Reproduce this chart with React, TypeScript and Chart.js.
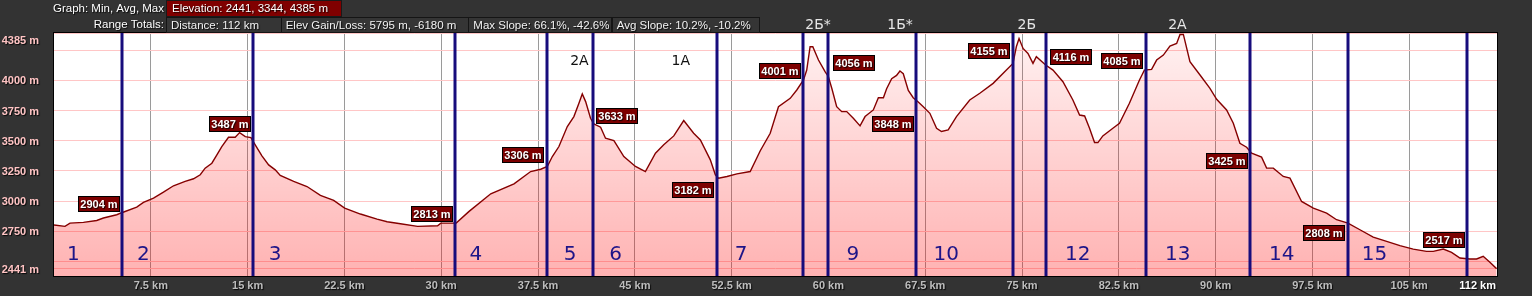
import React, { useEffect, useRef } from 'react';
import { Chart, registerables } from 'chart.js';

Chart.register(...registerables);

// ---- Data ----
const distanceKm = [
  0, 0.85, 1.24, 2.28, 3.31, 3.83, 4.86, 5.3, 6.41, 6.93, 7.71, 8.48, 9.26, 10.16, 10.81, 11.33, 11.71,
  12.23, 12.62, 13.0, 13.52, 14.04, 14.38, 14.82, 15.26, 15.59, 16.11, 16.63, 17.14, 17.53, 18.57, 19.6,
  20.64, 21.67, 22.52, 23.74, 25.03, 25.81, 26.84, 28.17, 29.72, 29.97, 31.16, 32.16, 33.84, 35.64, 36.93,
  37.71, 38.22, 38.61, 39.12, 39.77, 40.28, 40.67, 40.93, 41.19, 41.57, 41.83, 42.35, 42.73, 43.38, 44.15,
  45.05, 45.82, 46.6, 47.24, 48.02, 48.79, 49.56, 50.08, 50.85, 51.24, 51.49, 52.14, 52.91, 53.94, 54.72,
  55.49, 56.13, 57.04, 57.55, 58.07, 58.32, 58.58, 58.79, 59.23, 59.74, 60.0, 60.26, 60.64, 61.03, 61.42,
  61.93, 62.45, 62.84, 63.48, 63.87, 64.26, 64.51, 64.9, 65.28, 65.54, 65.8, 66.19, 66.57, 66.96, 67.35,
  67.86, 68.38, 68.76, 69.28, 69.92, 70.95, 71.73, 72.76, 73.79, 74.3, 74.56, 74.77, 75.08, 75.46, 75.85,
  76.11, 76.83, 77.4, 78.17, 78.94, 79.46, 79.85, 80.23, 80.62, 80.88, 81.26, 82.04, 82.55, 83.32, 84.1,
  84.48, 85.04, 85.43, 85.95, 86.46, 86.98, 87.24, 87.5, 88.01, 88.79, 89.56, 90.08, 90.85, 91.37, 91.88,
  92.4, 92.79, 93.56, 93.95, 94.47, 95.24, 95.76, 96.66, 97.57, 98.6, 99.37, 100.25, 101.18, 102.21,
  103.25, 104.28, 105.31, 106.34, 106.86, 107.64, 108.28, 108.93, 109.7, 110.22, 110.73, 111.25, 111.77,
];
const elevationM = [
  2802, 2791, 2818, 2824, 2840, 2860, 2887, 2906, 2950, 2989, 3025, 3074, 3127, 3163, 3185, 3218, 3273,
  3314, 3383, 3452, 3529, 3529, 3567, 3534, 3526, 3466, 3375, 3300, 3259, 3212, 3163, 3121,
  3047, 3006, 2942, 2893, 2851, 2829, 2813, 2791, 2796, 2818, 2818, 2915, 3061, 3143, 3245,
  3264, 3287, 3369, 3452, 3617, 3700, 3810, 3887, 3824, 3686, 3639, 3612, 3521, 3501, 3369,
  3287, 3245, 3397, 3466, 3540, 3667, 3562, 3507, 3342, 3218, 3190, 3204, 3226, 3245, 3417,
  3562, 3782, 3851, 3920, 4003, 4085, 4278, 4278, 4168, 4072, 4030, 3934, 3782, 3741, 3741,
  3686, 3623, 3700, 3755, 3856, 3856, 3931, 4014, 4041, 4077, 4055, 3917, 3856, 3820, 3782,
  3727, 3603, 3576, 3590, 3700, 3837, 3893, 3975, 4085, 4140, 4278, 4347, 4264, 4223, 4140,
  4196, 4127, 4085, 3989, 3837, 3713, 3705, 3603, 3485, 3485, 3540, 3603, 3645, 3810, 4003,
  4085, 4091, 4168, 4209, 4284, 4306, 4380, 4380, 4154, 4044, 3934, 3843, 3755, 3645, 3479,
  3446, 3397, 3364, 3273, 3273, 3204, 3190, 2997, 2942, 2901, 2846, 2818, 2763, 2702,
  2667, 2631, 2603, 2584, 2584, 2603, 2576, 2529, 2521, 2521, 2543, 2493, 2441,
];

const segmentBoundaryKm = [5.3, 15.45, 31.1, 38.2, 41.77, 51.4, 58.06, 60.0, 66.82, 74.33, 76.86, 84.64, 92.67, 100.26, 109.51];
const segmentLabels = ['1', '2', '3', '4', '5', '6', '7', '9', '10', '12', '13', '14', '15'];
const segmentLabelKm = [1.5, 6.93, 17.13, 32.68, 39.99, 43.52, 53.23, 61.89, 69.12, 79.32, 87.07, 95.13, 102.3];

const passLabels = ['2А', '1А', '2Б*', '1Б*', '2Б', '2А'];
const passKm = [40.71, 48.56, 59.2, 65.55, 75.37, 87.04];
const passAbovePlot = [false, false, true, true, true, true];

const elevLabels = ['2904 m', '3487 m', '2813 m', '3306 m', '3633 m', '3182 m', '4001 m', '4056 m', '3848 m', '4155 m', '4116 m', '4085 m', '3425 m', '2808 m', '2517 m'];
const elevLabelKm = [3.42, 13.57, 29.27, 36.32, 43.57, 49.49, 56.18, 61.94, 64.96, 72.39, 78.73, 82.73, 90.81, 98.35, 107.65];
const elevLabelM = [2982, 3644, 2899, 3387, 3713, 3098, 4085, 4146, 3644, 4243, 4201, 4166, 3334, 2738, 2686];

const xTickKm = [7.5, 15, 22.5, 30, 37.5, 45, 52.5, 60, 67.5, 75, 82.5, 90, 97.5, 105];
const xEndLabel = '112 km';
const yGridM = [2441, 2500, 2750, 3000, 3250, 3500, 3750, 4000, 4250, 4385];
const yLabelM = [2441, 2750, 3000, 3250, 3500, 3750, 4000, 4385];

const headerRow1Title = 'Graph: Min, Avg, Max';
const headerRow1Value = 'Elevation: 2441, 3344, 4385 m';
const headerRow2Title = 'Range Totals:';
const headerRow2Values = ['Distance: 112 km', 'Elev Gain/Loss: 5795 m, -6180 m', 'Max Slope: 66.1%, -42.6%', 'Avg Slope: 10.2%, -10.2%'];

// ---- Layout / style constants ----
const W = 1532;
const H = 296;
const SANS = '"Liberation Sans", Arial, sans-serif';
const DEJAVU = '"DejaVu Sans", sans-serif';
const HEADER_BOX_LEFT = 166;
const HEADER_ROW1_BOX_WIDTH = 175;
const HEADER_BOX_WIDTHS = [114.7, 187.6, 143.4, 147.3];

function shadowOn(ctx: CanvasRenderingContext2D) {
  ctx.shadowColor = 'rgba(0,0,0,0.85)';
  ctx.shadowOffsetX = 1;
  ctx.shadowOffsetY = 1;
  ctx.shadowBlur = 1;
}
function shadowOff(ctx: CanvasRenderingContext2D) {
  ctx.shadowColor = 'rgba(0,0,0,0)';
  ctx.shadowOffsetX = 0;
  ctx.shadowOffsetY = 0;
  ctx.shadowBlur = 0;
}

const decor = {
  id: 'decor',
  beforeDraw(chart: any) {
    const { ctx, chartArea: a } = chart;
    ctx.save();
    ctx.fillStyle = '#333333';
    ctx.fillRect(0, 0, chart.width, chart.height);
    ctx.fillStyle = '#ffffff';
    ctx.fillRect(a.left, a.top, a.right - a.left, a.bottom - a.top);
    ctx.restore();
  },
  afterDatasetsDraw(chart: any) {
    const { ctx, chartArea: a } = chart;
    const xs = chart.scales.x;
    const ys = chart.scales.y;
    ctx.save();
    // segment boundaries
    ctx.strokeStyle = '#170c7c';
    ctx.lineWidth = 3;
    segmentBoundaryKm.forEach((km) => {
      const x = Math.round(xs.getPixelForValue(km));
      ctx.beginPath();
      ctx.moveTo(x, a.top);
      ctx.lineTo(x, a.bottom);
      ctx.stroke();
    });
    // segment numbers
    ctx.fillStyle = '#1d1488';
    ctx.font = `20px ${DEJAVU}`;
    ctx.textAlign = 'center';
    ctx.textBaseline = 'middle';
    segmentLabels.forEach((t, i) => {
      ctx.fillText(t, xs.getPixelForValue(segmentLabelKm[i]), a.bottom - 21);
    });
    // pass labels
    ctx.font = `14px ${DEJAVU}`;
    passLabels.forEach((t, i) => {
      const x = xs.getPixelForValue(passKm[i]);
      if (passAbovePlot[i]) {
        ctx.fillStyle = '#e6e6e6';
        ctx.fillText(t, x, a.top - 8);
      } else {
        ctx.fillStyle = '#111111';
        ctx.fillText(t, x, a.top + 28);
      }
    });
    // elevation labels
    ctx.font = `bold 11px ${SANS}`;
    elevLabels.forEach((t, i) => {
      const cx = xs.getPixelForValue(elevLabelKm[i]);
      const cy = ys.getPixelForValue(elevLabelM[i]);
      const w = Math.round(ctx.measureText(t).width + 4);
      const h = 15;
      const x0 = Math.round(cx - w / 2) + 0.5;
      const y0 = Math.round(cy - h / 2) + 0.5;
      ctx.fillStyle = '#7d0000';
      ctx.fillRect(x0, y0, w, h);
      ctx.strokeStyle = '#000000';
      ctx.lineWidth = 1;
      ctx.strokeRect(x0, y0, w, h);
      shadowOn(ctx);
      ctx.fillStyle = '#ffffff';
      ctx.fillText(t, x0 + w / 2, y0 + h / 2 + 0.5);
      shadowOff(ctx);
    });
    ctx.restore();
  },
  afterDraw(chart: any) {
    const { ctx, chartArea: a } = chart;
    const xs = chart.scales.x;
    const ys = chart.scales.y;
    ctx.save();
    // plot border
    ctx.strokeStyle = '#000000';
    ctx.lineWidth = 1;
    ctx.strokeRect(a.left - 0.5, a.top - 0.5, a.right - a.left + 1, a.bottom - a.top + 1);

    // y labels
    ctx.font = `bold 11px ${SANS}`;
    ctx.textAlign = 'right';
    ctx.textBaseline = 'middle';
    shadowOn(ctx);
    ctx.fillStyle = '#ffc4c4';
    yLabelM.forEach((v) => {
      const y = Math.max(ys.getPixelForValue(v) + 1, a.top + 8);
      ctx.fillText(`${v} m`, a.left - 15, y);
    });
    // x labels
    ctx.textAlign = 'center';
    ctx.fillStyle = '#bdbdbd';
    xTickKm.forEach((v) => {
      ctx.fillText(`${v} km`, xs.getPixelForValue(v), a.bottom + 10);
    });
    ctx.textAlign = 'right';
    ctx.fillStyle = '#ffffff';
    ctx.fillText(xEndLabel, a.right - 1, a.bottom + 10);

    // header
    ctx.font = `11.5px ${SANS}`;
    ctx.fillStyle = '#ffffff';
    ctx.textAlign = 'right';
    ctx.fillText(headerRow1Title, HEADER_BOX_LEFT - 2, 9);
    ctx.fillText(headerRow2Title, HEADER_BOX_LEFT - 2, 25);
    shadowOff(ctx);

    ctx.textAlign = 'left';
    const w1 = HEADER_ROW1_BOX_WIDTH;
    ctx.fillStyle = '#800000';
    ctx.fillRect(HEADER_BOX_LEFT + 0.5, 0.5, w1, 16);
    ctx.strokeStyle = '#1a1a1a';
    ctx.strokeRect(HEADER_BOX_LEFT + 0.5, 0.5, w1, 16);
    shadowOn(ctx);
    ctx.fillStyle = '#ffffff';
    ctx.fillText(headerRow1Value, HEADER_BOX_LEFT + 6, 9);
    shadowOff(ctx);

    let bx = HEADER_BOX_LEFT;
    headerRow2Values.forEach((t, i) => {
      const bw = HEADER_BOX_WIDTHS[i];
      ctx.fillStyle = '#353535';
      ctx.fillRect(Math.round(bx) + 0.5, 17.5, Math.round(bw), 15);
      ctx.strokeStyle = '#151515';
      ctx.strokeRect(Math.round(bx) + 0.5, 17.5, Math.round(bw), 15);
      shadowOn(ctx);
      ctx.fillStyle = '#f2f2f2';
      ctx.fillText(t, bx + 5, 25.5);
      shadowOff(ctx);
      bx += bw;
    });
    ctx.restore();
  },
};

export default function App() {
  const canvasRef = useRef<HTMLCanvasElement | null>(null);

  useEffect(() => {
    document.body.style.margin = '0';
    document.body.style.background = '#333333';
    const canvas = canvasRef.current;
    if (!canvas) return;
    const chart = new Chart(canvas, {
      type: 'line',
      data: {
        datasets: [
          {
            data: distanceKm.map((d, i) => ({ x: d, y: elevationM[i] })),
            borderColor: '#850000',
            borderWidth: 1.4,
            pointRadius: 0,
            tension: 0,
            fill: 'start',
            backgroundColor: (context: any) => {
              const { chart: c } = context;
              const area = c.chartArea;
              if (!area) return 'rgba(255,0,0,0.2)';
              const g = c.ctx.createLinearGradient(0, area.top, 0, area.bottom);
              g.addColorStop(0, 'rgba(255,0,0,0.05)');
              g.addColorStop(1, 'rgba(255,0,0,0.30)');
              return g;
            },
          },
        ],
      },
      options: {
        animation: false,
        responsive: false,
        devicePixelRatio: 1,
        layout: { padding: { left: 54, right: 35, top: 33, bottom: 20 } },
        plugins: { legend: { display: false }, tooltip: { enabled: false } },
        scales: {
          x: {
            type: 'linear',
            min: 0,
            max: 111.8,
            afterBuildTicks: (scale: any) => {
              scale.ticks = xTickKm.map((v) => ({ value: v }));
            },
            ticks: { display: false },
            grid: { color: '#9a9a9a', lineWidth: 1, drawTicks: false },
            border: { display: false },
          },
          y: {
            type: 'linear',
            min: 2380,
            max: 4392,
            afterBuildTicks: (scale: any) => {
              scale.ticks = yGridM.map((v) => ({ value: v }));
            },
            ticks: { display: false },
            grid: { color: '#ffc6c6', lineWidth: 1, drawTicks: false },
            border: { display: false },
          },
        },
      },
      plugins: [decor],
    } as any);
    return () => chart.destroy();
  }, []);

  return (
    <div style={{ width: W, height: H, background: '#333333' }}>
      <canvas ref={canvasRef} width={W} height={H} style={{ display: 'block' }} />
    </div>
  );
}
